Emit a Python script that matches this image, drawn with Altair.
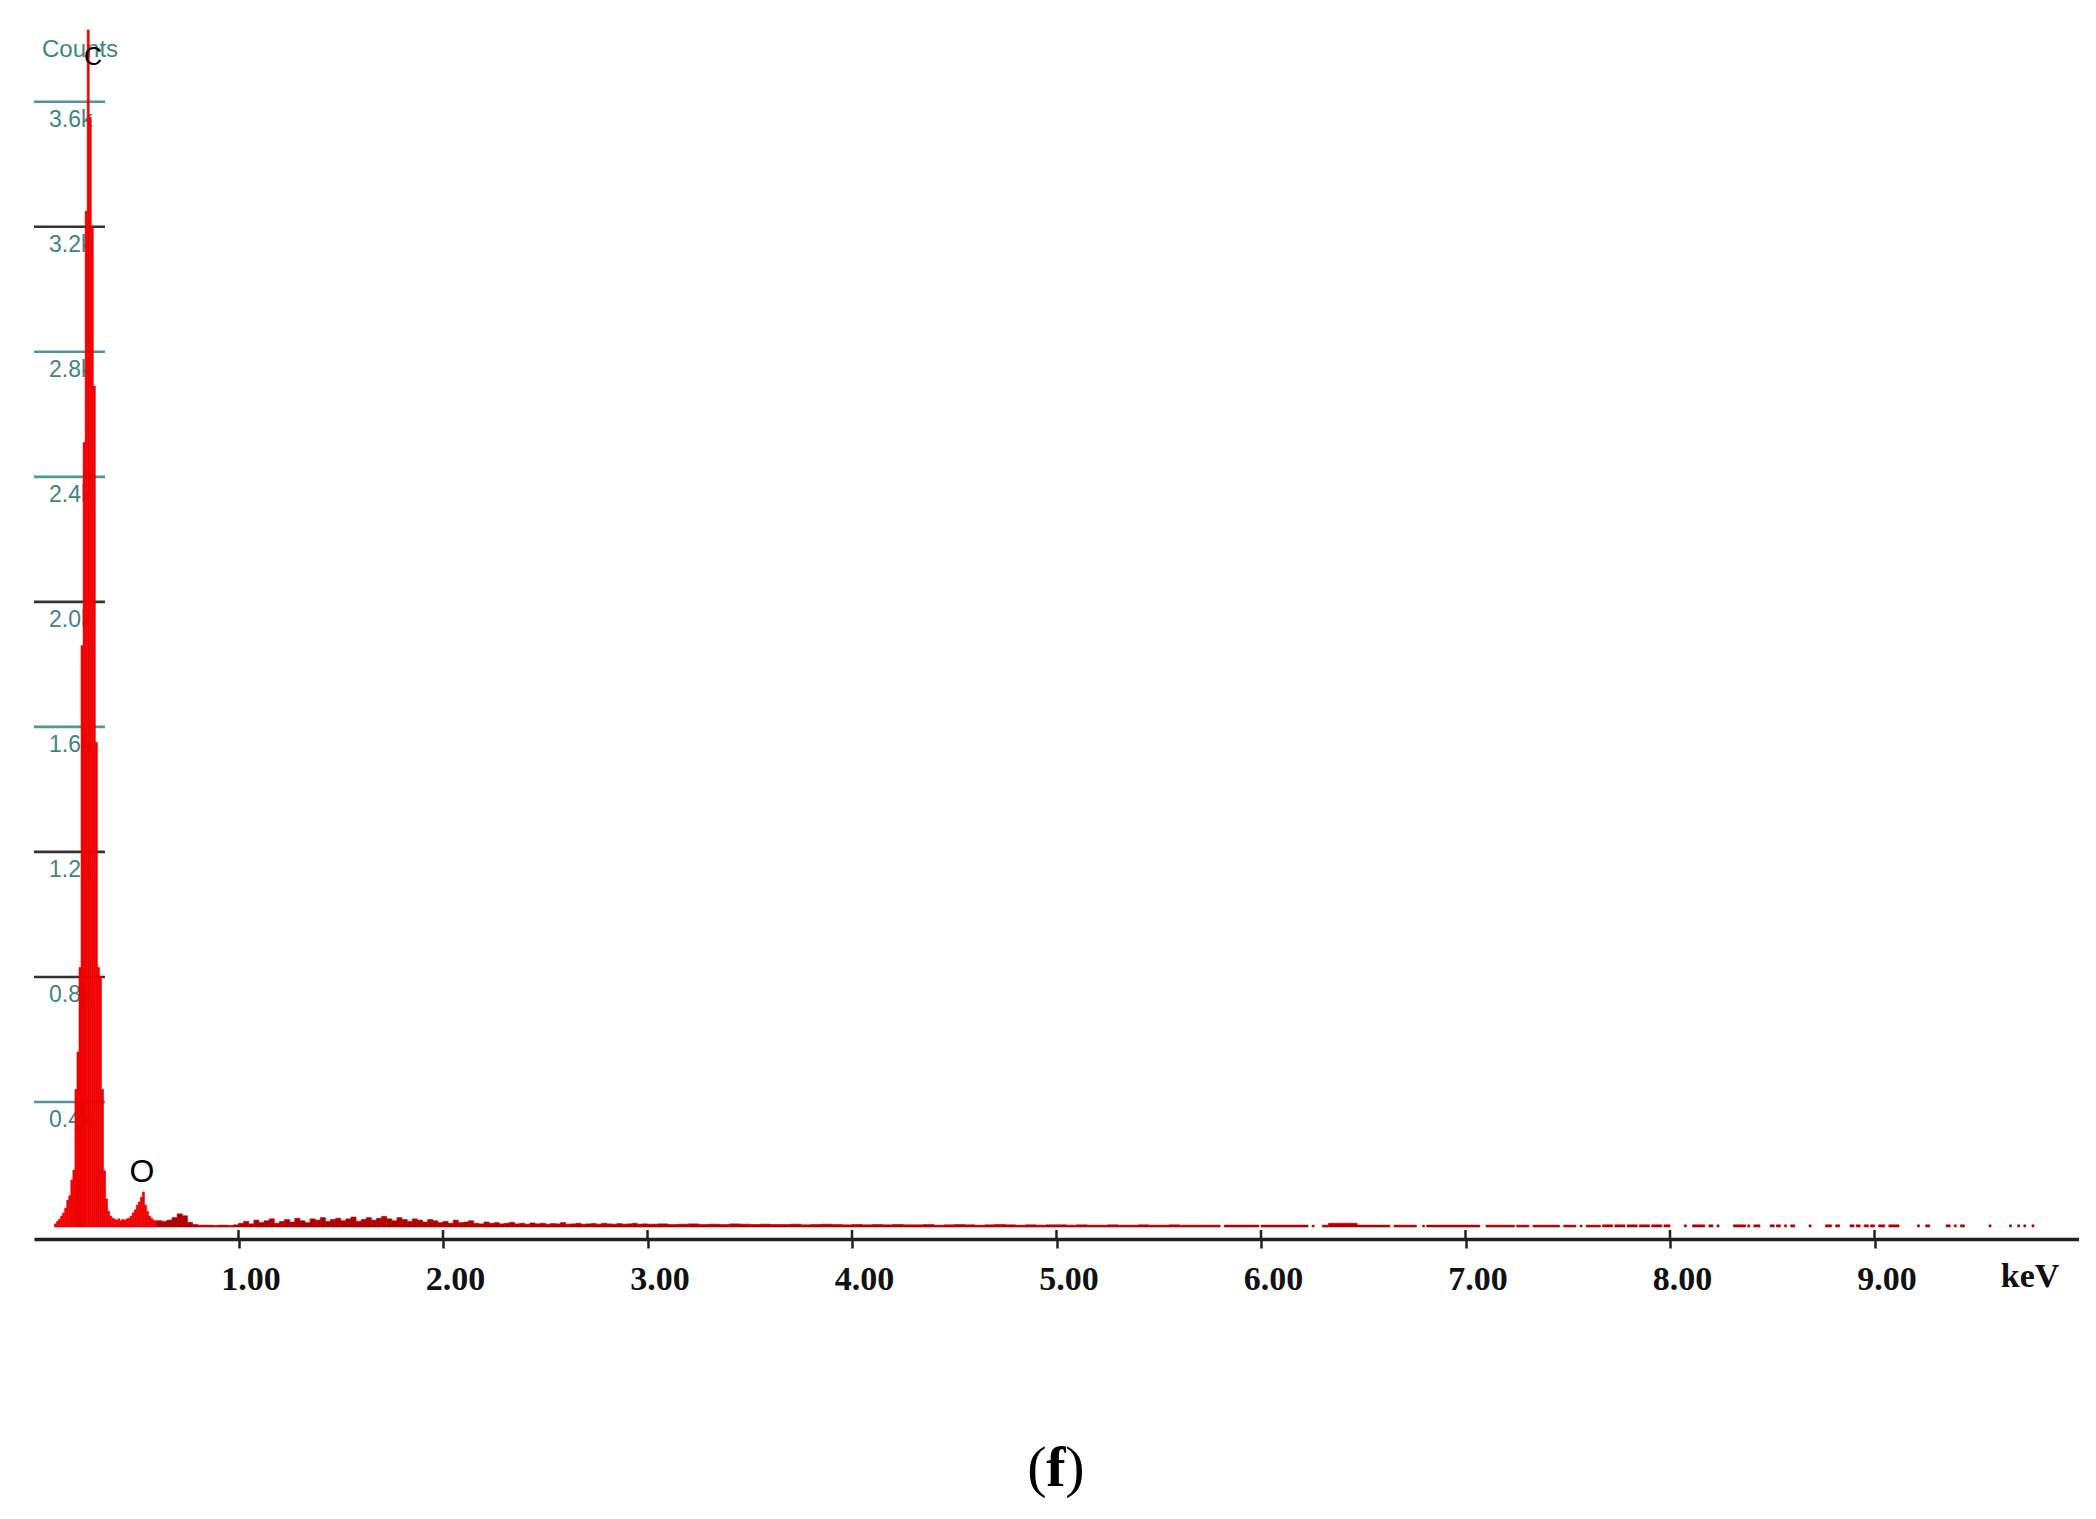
import altair as alt
import pandas as pd

# ---------------- data ----------------
# C / O region, 0.01 keV channels starting at 0.10 keV
PEAK_START = 0.10
PEAK_STEP = 0.01
peak_counts = [10, 18, 25, 35, 45, 60, 86, 100, 150, 182,
               440, 560, 830, 1860, 2510, 3250, 3830, 3550, 3200, 2690,
               1550, 830, 800, 440, 180, 90, 50, 35, 28, 25,
               22, 26, 20, 24, 22, 26, 28, 35, 45, 55,
               70, 80, 95, 112, 70, 50, 35, 28, 22, 20]

# low-energy continuum, 0.025 keV bins from 0.60 to 3.00 keV
FINE_START = 0.60
FINE_STEP = 0.025
fine_counts = [20, 18, 22, 30, 42, 36, 15, 8, 6, 6, 6, 5, 6, 6, 5, 7,
               12, 18, 10, 22, 14, 20, 26, 12, 18, 24, 16, 28, 20, 14, 26, 22, 30, 18, 24, 28,
               20, 26, 32, 18, 24, 30, 22, 28, 34, 26, 20, 30, 24, 18, 26, 22, 16, 24, 20, 14,
               18, 12, 22, 14, 16, 20, 12, 10, 16, 12, 14, 10, 12, 15, 10, 12, 9, 13, 10, 12,
               9, 11, 10, 14, 9, 10, 12, 9, 10, 11, 9, 12, 10, 9, 11, 9, 10, 12, 9, 10]

# continuum, 0.05 keV bins from 3.00 to 5.80 keV
BG_START = 3.00
BG_STEP = 0.05
bg_counts = [9, 10, 8, 9, 10, 8, 9, 8, 10, 9, 8, 9, 8, 8, 9, 7, 8, 9, 8, 7,
             8, 7, 8, 7, 8, 7, 7, 8, 6, 7, 8, 7, 6, 7, 8, 7, 6, 7, 6, 7,
             7, 6, 7, 6, 6, 7, 6, 6, 7, 6, 6, 7, 6, 6, 6, 6]

# sparse high-energy part: pieces (start keV, end keV, counts)
seg_start = [5.82, 6.00, 6.25, 6.30, 6.33, 6.47, 6.65, 6.79, 6.81, 7.10, 7.25, 7.33, 7.48,
             7.56, 7.59, 7.67, 7.73, 7.79, 7.85, 7.91, 7.97, 8.07, 8.11, 8.19, 8.23, 8.31,
             8.38, 8.41, 8.49, 8.52, 8.56, 8.59, 8.68, 8.76, 8.81, 8.88, 8.91, 8.95, 8.98,
             9.02, 9.07, 9.21, 9.25, 9.35, 9.39, 9.42, 9.56, 9.66, 9.70, 9.73, 9.77]
seg_end = [5.99, 6.23, 6.26, 6.33, 6.47, 6.63, 6.76, 6.80, 7.07, 7.24, 7.31, 7.46, 7.54,
           7.57, 7.66, 7.72, 7.78, 7.84, 7.90, 7.96, 8.00, 8.08, 8.17, 8.21, 8.24, 8.37,
           8.39, 8.44, 8.51, 8.54, 8.57, 8.61, 8.69, 8.79, 8.83, 8.90, 8.93, 8.97, 9.00,
           9.05, 9.12, 9.22, 9.27, 9.37, 9.40, 9.44, 9.57, 9.67, 9.71, 9.74, 9.78]
seg_counts = [6, 6, 6, 6, 12, 6, 6, 6, 6, 6, 6, 6, 6,
              6, 6, 7, 7, 7, 7, 7, 7, 7, 7, 7, 7, 7,
              7, 7, 7, 7, 7, 7, 7, 7, 7, 7, 7, 7, 7,
              7, 7, 7, 7, 7, 7, 7, 7, 7, 7, 7, 7]

y_tick_values = [400, 800, 1200, 1600, 2000, 2400, 2800, 3200, 3600]
y_tick_labels = ["0.4k", "0.8k", "1.2k", "1.6k", "2.0k", "2.4k", "2.8k", "3.2k", "3.6k"]
x_tick_values = [1, 2, 3, 4, 5, 6, 7, 8, 9]

elem_names = ["C", "O"]
elem_energy = [0.289, 0.528]
elem_label_counts = [3718, 143]

# ---------------- styles ----------------
y_tick_colors = ["#4f9696", "#333333", "#333333", "#4f9696", "#333333",
                 "#4f9696", "#4f9696", "#333333", "#4f9696"]
elem_font_sizes = [25, 32]
W, H = 2045, 1219
TEAL = "#3d8686"

# ---------------- tables ----------------
rows = []
for i, c in enumerate(peak_counts):
    s = round(PEAK_START + i * PEAK_STEP, 4)
    rows.append({"start": s, "end": round(s + PEAK_STEP, 4), "count": c, "part": "peak"})
for i, c in enumerate(fine_counts):
    s = round(FINE_START + i * FINE_STEP, 4)
    rows.append({"start": s, "end": round(s + FINE_STEP, 4), "count": c, "part": "background"})
for i, c in enumerate(bg_counts):
    s = round(BG_START + i * BG_STEP, 4)
    rows.append({"start": s, "end": round(s + BG_STEP, 4), "count": c, "part": "background"})
for s, e, c in zip(seg_start, seg_end, seg_counts):
    rows.append({"start": s, "end": e, "count": c, "part": "background"})
spec = pd.DataFrame(rows)

yt = pd.DataFrame({"v": y_tick_values, "label": y_tick_labels, "col": y_tick_colors,
                   "x0": [0.0] * len(y_tick_values), "x1": [0.347] * len(y_tick_values)})
el = pd.DataFrame({"name": elem_names, "e": elem_energy, "c": elem_label_counts,
                   "fs": elem_font_sizes})
xt = pd.DataFrame({"t": x_tick_values})

XS = alt.Scale(domain=[0, 10], nice=False, zero=False)
YS = alt.Scale(domain=[0, 3900], nice=False, zero=False)
XAXIS = alt.Axis(values=x_tick_values, format=".2f", title=None, grid=False,
                 domainColor="#222222", domainWidth=3.5,
                 tickColor="#222222", tickWidth=2.5, tickSize=9,
                 labelFont="Liberation Serif", labelFontWeight="bold",
                 labelFontSize=34, labelColor="#111111", labelPadding=14,
                 labelOffset=12, labelFlush=False, labelOverlap=False, offset=12)

# y tick lines
ytick_rules = alt.Chart(yt).mark_rule(strokeWidth=2.6).encode(
    x=alt.X("x0:Q", scale=XS, axis=XAXIS, title=None),
    x2="x1:Q",
    y=alt.Y("v:Q", scale=YS, axis=None),
    color=alt.Color("col:N", scale=None),
)
ytick_text = alt.Chart(yt).mark_text(
    align="left", baseline="alphabetic", dy=25, font="Liberation Sans", fontSize=23,
    color=TEAL,
).encode(
    x=alt.value(15),
    y=alt.Y("v:Q", scale=YS, axis=None),
    text="label:N",
)

counts_title = alt.Chart(pd.DataFrame({"t": ["Counts"]})).mark_text(
    align="left", baseline="alphabetic", font="Liberation Sans", fontSize=24, color=TEAL
).encode(x=alt.value(8), y=alt.value(49), text="t:N")

bars = alt.Chart(spec).mark_bar(strokeWidth=0.6).encode(
    x=alt.X("start:Q", scale=XS, axis=XAXIS, title=None),
    x2="end:Q",
    y=alt.Y("count:Q", scale=YS, axis=None),
    y2=alt.datum(0),
    color=alt.Color("part:N", scale=alt.Scale(domain=["peak", "background"],
                                              range=["#f00000", "#b00000"]), legend=None),
    stroke=alt.Stroke("part:N", scale=alt.Scale(domain=["peak", "background"],
                                                range=["#f00000", "#b00000"]), legend=None),
)

elem_text = alt.Chart(el).mark_text(
    align="center", baseline="alphabetic", font="Liberation Sans", color="#000000"
).encode(
    x=alt.X("e:Q", scale=XS, axis=XAXIS, title=None),
    y=alt.Y("c:Q", scale=YS, axis=None),
    text="name:N",
    size=alt.Size("fs:Q", scale=None, legend=None),
)

tick_up = alt.Chart(xt).mark_rule(strokeWidth=2.5, color="#222222").encode(
    x=alt.X("t:Q", scale=XS, axis=XAXIS, title=None),
    y=alt.value(H + 3),
    y2=alt.value(H + 12),
)

kev = alt.Chart(pd.DataFrame({"t": ["keV"]})).mark_text(
    align="center", baseline="alphabetic", font="Liberation Serif", fontWeight="bold",
    fontSize=34, color="#111111"
).encode(x=alt.value(1996), y=alt.value(1279), text="t:N")

cap_l = alt.Chart(pd.DataFrame({"t": ["("]})).mark_text(
    align="center", baseline="alphabetic", font="Liberation Serif", fontSize=58, color="#000000"
).encode(x=alt.value(1003), y=alt.value(1478), text="t:N")
cap_f = alt.Chart(pd.DataFrame({"t": ["f"]})).mark_text(
    align="center", baseline="alphabetic", font="Liberation Serif", fontWeight="bold",
    fontSize=58, color="#000000"
).encode(x=alt.value(1022), y=alt.value(1478), text="t:N")
cap_r = alt.Chart(pd.DataFrame({"t": [")"]})).mark_text(
    align="center", baseline="alphabetic", font="Liberation Serif", fontSize=58, color="#000000"
).encode(x=alt.value(1041), y=alt.value(1478), text="t:N")

chart = alt.layer(
    ytick_rules, ytick_text, counts_title, bars, elem_text, tick_up, kev, cap_l, cap_f, cap_r
).properties(
    width=W, height=H,
    padding={"left": 24, "top": 0, "right": 0, "bottom": 0},
    background="white",
).configure_view(stroke=None)

chart.save("out.html", embed_options={"renderer": "svg", "actions": False})
